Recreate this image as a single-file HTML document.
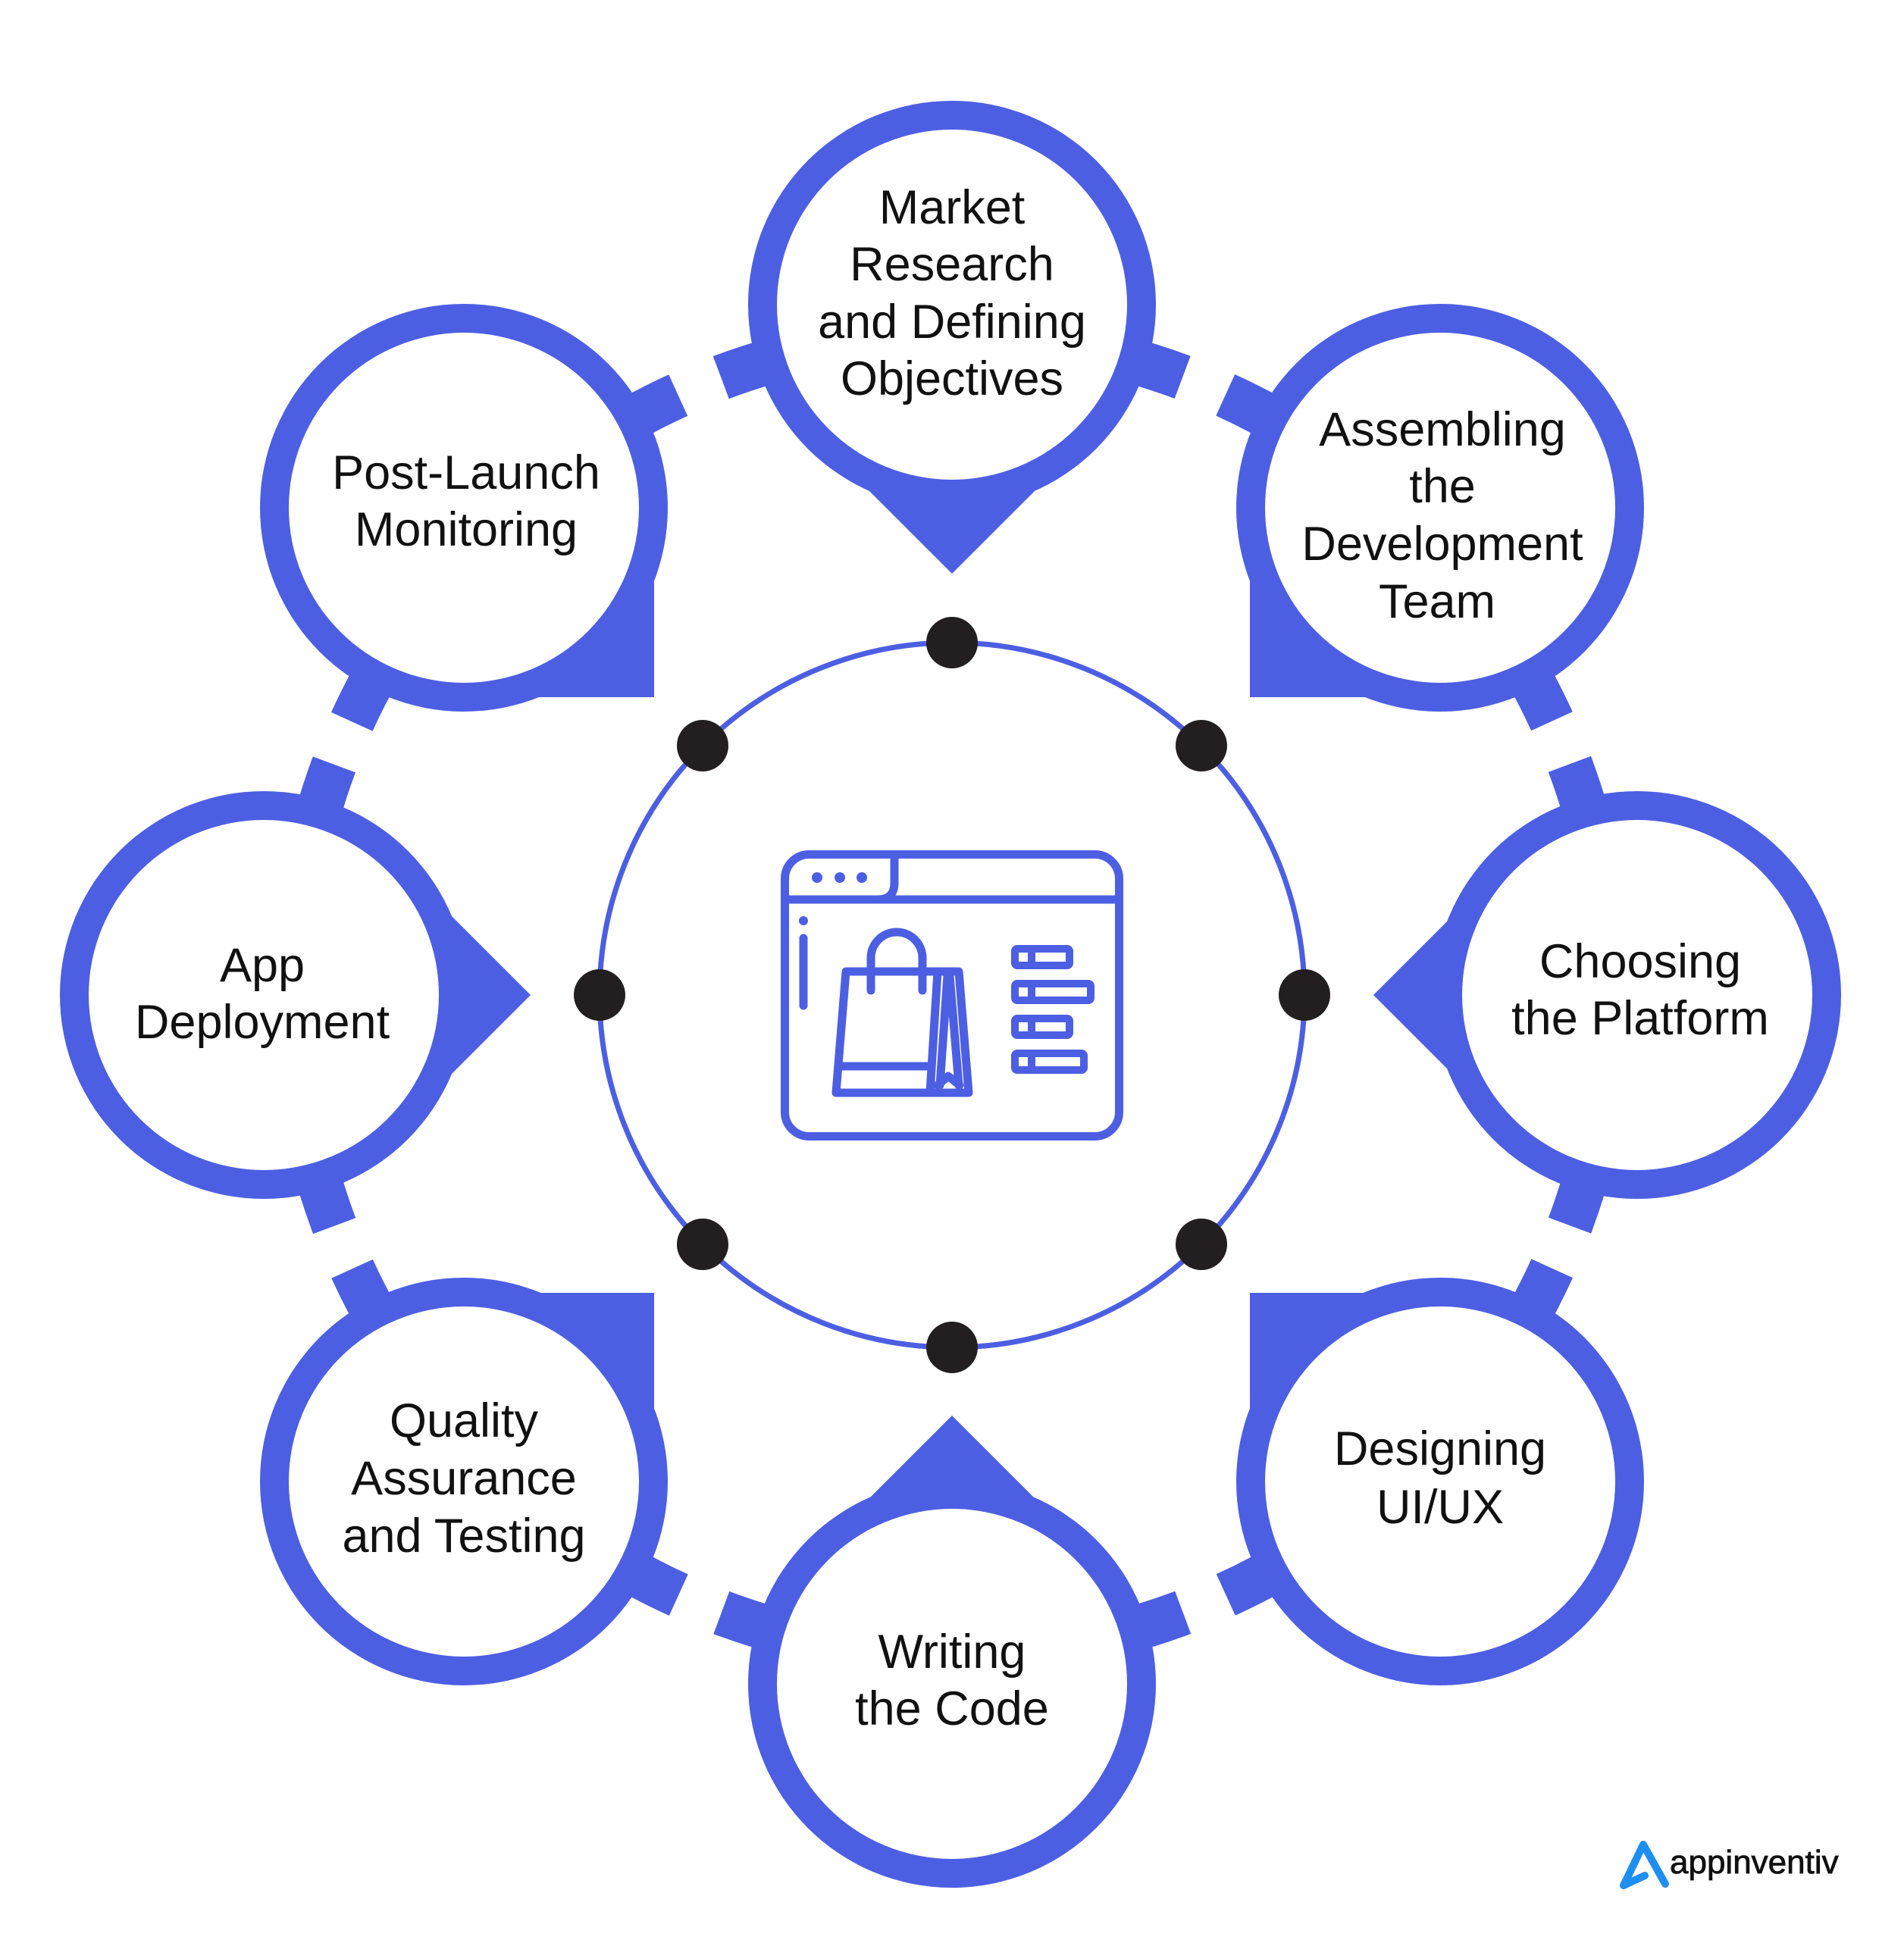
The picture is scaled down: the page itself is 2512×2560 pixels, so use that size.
<!DOCTYPE html>
<html><head><meta charset="utf-8"><style>
html,body{margin:0;padding:0;background:#fff}
svg{display:block}
text{font-family:"Liberation Sans",sans-serif;font-size:63px;fill:#111;text-anchor:middle;dominant-baseline:central}
</style></head><body>
<svg width="2512" height="2560" viewBox="0 0 2512 2560" xmlns="http://www.w3.org/2000/svg">
<g fill="none" stroke="#4C5FE3" stroke-width="60" stroke-dasharray="622 4844">
<circle cx="1256" cy="1313" r="870" transform="rotate(-110.5 1256 1313)"/>
<circle cx="1256" cy="1313" r="870" transform="rotate(-65.5 1256 1313)"/>
<circle cx="1256" cy="1313" r="870" transform="rotate(-20.5 1256 1313)"/>
<circle cx="1256" cy="1313" r="870" transform="rotate(24.5 1256 1313)"/>
<circle cx="1256" cy="1313" r="870" transform="rotate(69.5 1256 1313)"/>
<circle cx="1256" cy="1313" r="870" transform="rotate(114.5 1256 1313)"/>
<circle cx="1256" cy="1313" r="870" transform="rotate(159.5 1256 1313)"/>
<circle cx="1256" cy="1313" r="870" transform="rotate(204.5 1256 1313)"/>
</g>
<g fill="#4C5FE3">
<polygon points="1256,757 1056,557 1456,557"/>
<polygon points="1256,1868 1056,2068 1456,2068"/>
<polygon points="700,1313 500,1113 500,1513"/>
<polygon points="1812,1313 2012,1113 2012,1513"/>
<rect x="612" y="670" width="251" height="250"/>
<rect x="1649" y="670" width="251" height="250"/>
<rect x="1649" y="1706" width="251" height="249"/>
<rect x="612" y="1706" width="251" height="249"/>
<circle cx="1256" cy="402" r="269"/>
<circle cx="1900" cy="670" r="269"/>
<circle cx="2160" cy="1313" r="269"/>
<circle cx="1900" cy="1955" r="269"/>
<circle cx="1256" cy="2222" r="269"/>
<circle cx="612" cy="1955" r="269"/>
<circle cx="348" cy="1313" r="269"/>
<circle cx="612" cy="670" r="269"/>
</g>
<g fill="#fff">
<circle cx="1256" cy="402" r="231"/>
<circle cx="1900" cy="670" r="231"/>
<circle cx="2160" cy="1313" r="231"/>
<circle cx="1900" cy="1955" r="231"/>
<circle cx="1256" cy="2222" r="231"/>
<circle cx="612" cy="1955" r="231"/>
<circle cx="348" cy="1313" r="231"/>
<circle cx="612" cy="670" r="231"/>
</g>
<circle cx="1256" cy="1313" r="465" fill="none" stroke="#4C5FE3" stroke-width="7"/>
<g fill="#231f20">
<circle cx="1256" cy="848" r="34"/>
<circle cx="1585" cy="984" r="34"/>
<circle cx="1721" cy="1313" r="34"/>
<circle cx="1585" cy="1642" r="34"/>
<circle cx="1256" cy="1778" r="34"/>
<circle cx="927" cy="1642" r="34"/>
<circle cx="791" cy="1313" r="34"/>
<circle cx="927" cy="984" r="34"/>
</g>
<!-- icon -->
<g fill="none" stroke="#4C5FE3" stroke-width="11" stroke-linecap="round" stroke-linejoin="round">
<rect x="1035.5" y="1127.5" width="441" height="372" rx="32"/>
<line x1="1036" y1="1187" x2="1476" y2="1187"/>
<path d="M1180 1128 V1165 Q1180 1187 1158 1187"/>
<line x1="1060" y1="1238" x2="1060" y2="1327"/>
<polygon points="1116,1282 1265,1282 1278,1442 1103,1442"/>
<line x1="1237" y1="1282" x2="1227" y2="1442"/>
<line x1="1108" y1="1407" x2="1229" y2="1407"/>
<path d="M1250 1288 L1240 1432 M1253 1288 L1265 1432 M1237 1432 L1251 1420 L1266 1432"/>
<path d="M1149 1307 V1264 A34 34 0 0 1 1217 1264 V1307"/>
<g stroke-width="10">
<rect x="1339" y="1252" width="72" height="22" rx="3"/>
<rect x="1339" y="1298" width="100" height="22" rx="3"/>
<rect x="1339" y="1344" width="72" height="22" rx="3"/>
<rect x="1339" y="1390" width="91" height="22" rx="3"/>
<path d="M1361 1252 V1274 M1361 1298 V1320 M1361 1344 V1366 M1361 1390 V1412"/>
</g>
</g>
<g fill="#4C5FE3">
<circle cx="1078" cy="1158" r="7"/><circle cx="1108" cy="1158" r="7"/><circle cx="1137" cy="1158" r="7"/>
<circle cx="1060" cy="1215" r="6"/>
</g>
<!-- labels -->
<text x="1256" y="274">Market</text>
<text x="1256" y="349">Research</text>
<text x="1256" y="425">and Defining</text>
<text x="1256" y="500">Objectives</text>
<text x="1903" y="567">Assembling</text>
<text x="1903" y="642">the</text>
<text x="1903" y="718">Development</text>
<text x="1896" y="794">Team</text>
<text x="2164" y="1269">Choosing</text>
<text x="2164" y="1344">the Platform</text>
<text x="1900" y="1912">Designing</text>
<text x="1900" y="1989">UI/UX</text>
<text x="1256" y="2180">Writing</text>
<text x="1256" y="2255">the Code</text>
<text x="612" y="1875">Quality</text>
<text x="612" y="1951">Assurance</text>
<text x="612" y="2027">and Testing</text>
<text x="346" y="1274">App</text>
<text x="346" y="1349">Deployment</text>
<text x="615" y="624">Post-Launch</text>
<text x="615" y="699">Monitoring</text>
<!-- logo -->
<path d="M2142 2488 L2168 2434 L2197 2486 M2142 2488 L2170 2475" fill="none" stroke="#1E8FF0" stroke-width="10" stroke-linecap="round" stroke-linejoin="round"/>
<text x="2203" y="2472" style="font-size:44px;text-anchor:start;dominant-baseline:alphabetic;fill:#111;stroke:#111;stroke-width:0.8">appinventiv</text>
</svg>
</body></html>
